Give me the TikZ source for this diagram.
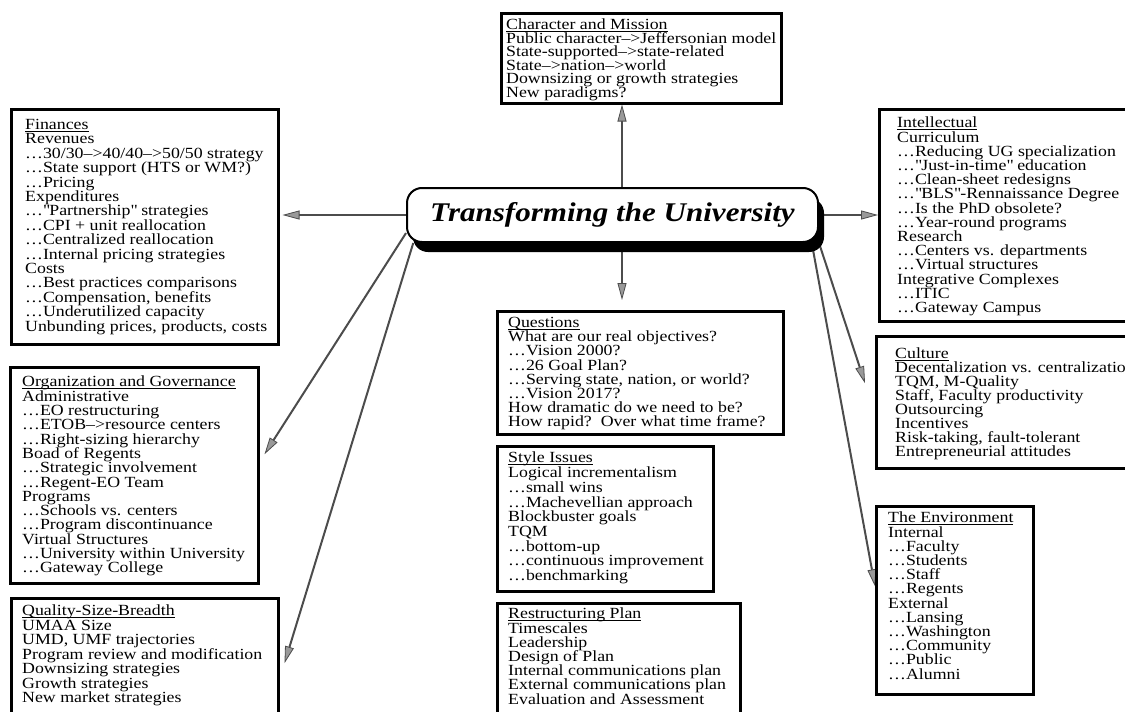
\documentclass[tikz,border=0pt]{standalone}
\usepackage{fontspec}
\setmainfont{Liberation Serif}[FakeStretch=1.15]
\usetikzlibrary{arrows.meta,backgrounds,shadows}
\setlength{\lineskiplimit}{-20pt}

\begin{document}
\begin{tikzpicture}
		[x=1pt, y=-1pt,
		box/.style={draw=black, line width=2.5pt, anchor=north west, inner sep=0pt},
		txt/.style={anchor=north west, align=left, inner sep=0pt,
			font=\fontsize{15.5}{#1}\selectfont},
		txt/.default=13.8,
		hub/.style={draw=black, line width=2pt, rounded corners=15pt, fill=white,
			minimum width=411pt, minimum height=54pt,
			font=\fontsize{27}{29}\selectfont\bfseries\itshape,
			drop shadow={shadow xshift=6pt, shadow yshift=-10pt, opacity=1, fill=black}},
		link/.style={draw=black!70, line width=2pt,
			-{Triangle[length=17pt, width=9pt, fill=black!40, line width=0.8pt]}}]

		\useasboundingbox (0,0) rectangle (1125,712);
		\clip (0,0) rectangle (1125,712);

		\node[hub] (hub) at (612.5,215) {Transforming the University};

		% the ten topic boxes, each with its list of lines
		\node[box, minimum width=280pt, minimum height=90pt] (char) at (500,12) {};
		\node[txt=13.5] (char-t) at ([xshift=6pt, yshift=-7pt]char.north west) {%
			\underline{\raisebox{0pt}[\height][0pt]{Character and Mission}}\\
			Public character-->Jeffersonian model\\
			State-supported-->state-related\\
			State-->nation-->world\\
			Downsizing or growth strategies\\
			New paradigms?};

		\node[box, minimum width=267pt, minimum height=235pt] (fin) at (10,108) {};
		\node[txt=14.4] (fin-t) at ([xshift=15pt, yshift=-11pt]fin.north west) {%
			\underline{\raisebox{0pt}[\height][0pt]{Finances}}\\
			Revenues\\
			\ldots30/30-->40/40-->50/50 strategy\\
			\ldots State support (HTS or WM?)\\
			\ldots Pricing\\
			Expenditures\\
			\ldots\textquotedbl Partnership\textquotedbl\ strategies\\
			\ldots CPI + unit reallocation\\
			\ldots Centralized reallocation\\
			\ldots Internal pricing strategies\\
			Costs\\
			\ldots Best practices comparisons\\
			\ldots Compensation, benefits\\
			\ldots Underutilized capacity\\
			Unbunding prices, products, costs};

		\node[box, minimum width=248pt, minimum height=216pt] (org) at (9,366) {};
		\node[txt=14.3] (org-t) at ([xshift=13pt, yshift=-10pt]org.north west) {%
			\underline{\raisebox{0pt}[\height][0pt]{Organization and Governance}}\\
			Administrative\\
			\ldots EO restructuring\\
			\ldots ETOB-->resource centers\\
			\ldots Right-sizing hierarchy\\
			Boad of Regents\\
			\ldots Strategic involvement\\
			\ldots Regent-EO Team\\
			Programs\\
			\ldots Schools vs. centers\\
			\ldots Program discontinuance\\
			Virtual Structures\\
			\ldots University within University\\
			\ldots Gateway College};

		\node[box, minimum width=267pt, minimum height=130pt] (qual) at (10,597) {};
		\node[txt=14.5] (qual-t) at ([xshift=12pt, yshift=-8pt]qual.north west) {%
			\underline{\raisebox{0pt}[\height][0pt]{Quality-Size-Breadth}}\\
			UMAA Size\\
			UMD, UMF trajectories\\
			Program review and modification\\
			Downsizing strategies\\
			Growth strategies\\
			New market strategies};

		\node[box, minimum width=286pt, minimum height=123pt] (quest) at (496,310) {};
		\node[txt=14.2] (quest-t) at ([xshift=12pt, yshift=-7pt]quest.north west) {%
			\underline{\raisebox{0pt}[\height][0pt]{Questions}}\\
			What are our real objectives?\\
			\ldots Vision 2000?\\
			\ldots 26 Goal Plan?\\
			\ldots Serving state, nation, or world?\\
			\ldots Vision 2017?\\
			How dramatic do we need to be?\\
			How rapid?\ \ Over what time frame?};

		\node[box, minimum width=216pt, minimum height=145pt] (style) at (496,445) {};
		\node[txt=14.7] (style-t) at ([xshift=12pt, yshift=-7pt]style.north west) {%
			\underline{\raisebox{0pt}[\height][0pt]{Style Issues}}\\
			Logical incrementalism\\
			\ldots small wins\\
			\ldots Machevellian approach\\
			Blockbuster goals\\
			TQM\\
			\ldots bottom-up\\
			\ldots continuous improvement\\
			\ldots benchmarking};

		\node[box, minimum width=243pt, minimum height=130pt] (restr) at (496,602) {};
		\node[txt=14.2] (restr-t) at ([xshift=12pt, yshift=-6pt]restr.north west) {%
			\underline{\raisebox{0pt}[\height][0pt]{Restructuring Plan}}\\
			Timescales\\
			Leadership\\
			Design of Plan\\
			Internal communications plan\\
			External communications plan\\
			Evaluation and Assessment};

		\node[box, minimum width=262pt, minimum height=212pt] (intel) at (878,108) {};
		\node[txt=14.2] (intel-t) at ([xshift=19pt, yshift=-9pt]intel.north west) {%
			\underline{\raisebox{0pt}[\height][0pt]{Intellectual}}\\
			Curriculum\\
			\ldots Reducing UG specialization\\
			\ldots\textquotedbl Just-in-time\textquotedbl\ education\\
			\ldots Clean-sheet redesigns\\
			\ldots\textquotedbl BLS\textquotedbl-Rennaissance Degree\\
			\ldots Is the PhD obsolete?\\
			\ldots Year-round programs\\
			Research\\
			\ldots Centers vs. departments\\
			\ldots Virtual structures\\
			Integrative Complexes\\
			\ldots ITIC\\
			\ldots Gateway Campus};

		\node[box, minimum width=262pt, minimum height=132pt] (cult) at (875,335) {};
		\node[txt=14] (cult-t) at ([xshift=20pt, yshift=-13pt]cult.north west) {%
			\underline{\raisebox{0pt}[\height][0pt]{Culture}}\\
			Decentalization vs. centralization\\
			TQM, M-Quality\\
			Staff, Faculty productivity\\
			Outsourcing\\
			Incentives\\
			Risk-taking, fault-tolerant\\
			Entrepreneurial attitudes};

		\node[box, minimum width=157pt, minimum height=188pt] (env) at (875,505) {};
		\node[txt=14.2] (env-t) at ([xshift=13pt, yshift=-7pt]env.north west) {%
			\underline{\raisebox{0pt}[\height][0pt]{The Environment}}\\
			Internal\\
			\ldots Faculty\\
			\ldots Students\\
			\ldots Staff\\
			\ldots Regents\\
			External\\
			\ldots Lansing\\
			\ldots Washington\\
			\ldots Community\\
			\ldots Public\\
			\ldots Alumni};

		\coordinate (hubtop) at ([xshift=9.5pt]hub.north);
		\coordinate (hubbot) at ([xshift=9.5pt]hub.south);

		% spokes go under the centre box
		\begin{scope}[on background layer]
			\path (hubtop) edge [link] (hubtop |- char.south);
			\path (hubbot) edge [link, shorten >=10pt] (hubbot |- quest.north);
			\path (hub.west) edge [link, shorten >=3pt] (hub.west -| fin.east);
			\path (hub.east) edge [link] (hub.east -| intel.west);
			\path (hub.185) edge [link] ([xshift=5pt, yshift=21pt]org.east);
			\path (hub.188) edge [link] ([xshift=5pt]qual.east);
			\path (hub.south east) edge [link] ([xshift=-10pt, yshift=19pt]cult.west);
			\path (hub.352) edge [link] ([yshift=14pt]env.west);
		\end{scope}
\end{tikzpicture}
\end{document}
